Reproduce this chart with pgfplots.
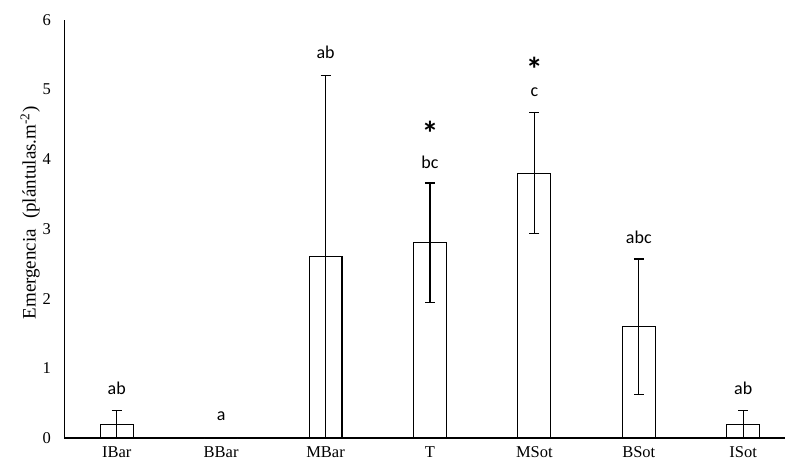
\documentclass[border=0pt]{standalone}
\usepackage{pgfplots}
\pgfplotsset{compat=1.18}
\usepackage{fontspec}
\setmainfont{Liberation Serif}
\newfontfamily\lettersfont{Carlito}

\pgfplotstableread{
x  y    err
0  0.2  0.2
1  0.0  0.0
2  2.6  2.6
3  2.8  0.86
4  3.8  0.87
5  1.6  0.97
6  0.2  0.2
}\emergencia

\begin{document}
\begin{tikzpicture}
\useasboundingbox (0,0) rectangle (785pt,472pt);
\begin{axis}[
  at={(64.5pt,34pt)}, anchor=south west,
  scale only axis,
  width=720.5pt, height=418pt,
  xmin=-0.5, xmax=6.4,
  ymin=0, ymax=6,
  axis x line=bottom, axis y line=left,
  axis line style={line width=1.1pt, -},
  xtick={0,...,6},
  xticklabels={IBar,BBar,MBar,T,MSot,BSot,ISot},
  ytick={0,...,6},
  major tick length=0pt,
  tick label style={font=\fontsize{16.5}{18}\selectfont},
  /pgf/number format/assume math mode=true,
  xticklabel style={yshift=-5pt},
  yticklabel style={xshift=-10pt},
  ylabel={Emergencia\; (plántulas.m\textsuperscript{-2})},
  ylabel style={font=\fontsize{19}{21}\selectfont, yshift=-4pt, xshift=16pt},
  clip=false,
]
\addplot[ybar, bar width=0.315, draw=black, fill=white, line width=1.1pt,
  error bars/.cd, y dir=both, y explicit,
  error mark=|,
  error bar style={line width=1.1pt, black},
  error mark options={mark size=5pt, line width=1.1pt, black}]
  table[x=x, y=y, y error=err] {\emergencia};

\begin{scope}[every node/.style={font=\lettersfont\fontsize{18}{20}\selectfont}]
\node at (axis cs:0,0.72) {ab};
\node at (axis cs:1,0.31) {a};
\node at (axis cs:2,5.54) {ab};
\node at (axis cs:3,3.96) {bc};
\node at (axis cs:4,4.97) {c};
\node at (axis cs:5,2.88) {abc};
\node at (axis cs:6,0.72) {ab};
\end{scope}
% significance markers
\begin{scope}[every node/.style={font=\lettersfont\bfseries\fontsize{34}{34}\selectfont,
    inner sep=0pt, text height=0.45em, text depth=0pt, anchor=south}]
\node at (axis cs:3,4.20) {*};
\node at (axis cs:4,5.12) {*};
\end{scope}
\end{axis}
\end{tikzpicture}
\end{document}
